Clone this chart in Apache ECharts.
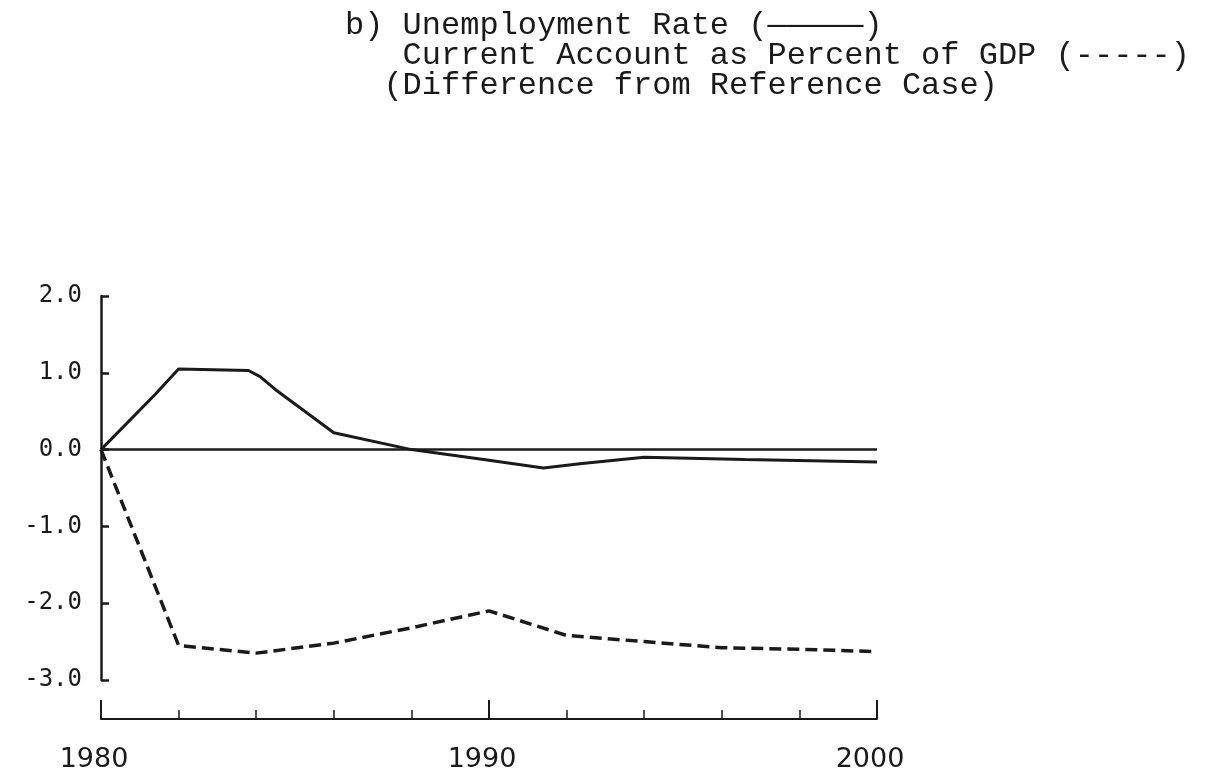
<!DOCTYPE html>
<html>
<head>
<meta charset="utf-8">
<script src="https://cdn.jsdelivr.net/npm/echarts@6/dist/echarts.min.js"></script>
<style>
  html, body { margin: 0; padding: 0; background: #fff; }
  #chart { width: 1206px; height: 773px; }
</style>
</head>
<body>
<div id="chart"></div>
<script>
// values: [year, difference]
const unemployment = [
  [1980, 0.0], [1981.4, 0.72], [1982, 1.05], [1983.8, 1.03], [1984.1, 0.95],
  [1984.5, 0.78], [1986, 0.22], [1988, 0.0], [1990, -0.14], [1991.4, -0.24],
  [1992.4, -0.18], [1994, -0.10], [1996.6, -0.13], [2000, -0.16]
]
const currentAccount = [
  [1980, 0.0], [1982, -2.55], [1984, -2.65], [1986, -2.52], [1988, -2.32],
  [1990, -2.1], [1992, -2.42], [1994, -2.5], [1996, -2.58], [1998, -2.6],
  [2000, -2.63]
]
const titleLines = [
  'b) Unemployment Rate (—————)',
  '   Current Account as Percent of GDP (-----)',
  '  (Difference from Reference Case)'
]
const ink = '#1a1a1a'

const chart = echarts.init(document.getElementById('chart'))

const option = {
  animation: false,
  backgroundColor: '#fff',
  title: {
    text: titleLines.join('\n'),
    left: 340,
    top: 6,
    textStyle: {
      fontFamily: 'Liberation Mono',
      fontSize: 32,
      fontWeight: 'normal',
      lineHeight: 30,
      color: ink
    }
  },
  grid: {
    left: 101,
    right: 329,
    top: 296,
    bottom: 91
  },
  xAxis: {
    type: 'value',
    min: 1980,
    max: 2000,
    interval: 10,
    offset: 39,
    axisLine: { onZero: false, lineStyle: { color: ink, width: 2 } },
    axisTick: { inside: true, length: 19, lineStyle: { color: ink, width: 2 } },
    minorTick: { show: true, splitNumber: 5, length: 9, lineStyle: { color: ink, width: 1.5 } },
    splitLine: { show: false },
    axisLabel: {
      margin: 27,
      color: ink,
      fontFamily: 'DejaVu Sans',
      fontSize: 27,
      padding: [0, 14, 0, 0],
      formatter: v => String(v)
    }
  },
  yAxis: {
    type: 'value',
    min: -3,
    max: 2,
    interval: 1,
    axisLine: { show: true, lineStyle: { color: ink, width: 2.5 } },
    axisTick: { show: true, inside: true, length: 8, lineStyle: { color: ink, width: 2.5 } },
    splitLine: { show: false },
    axisLabel: {
      margin: 19,
      color: ink,
      fontFamily: 'DejaVu Sans Mono',
      fontSize: 24,
      formatter: v => v.toFixed(1)
    }
  },
  series: [
    {
      name: 'Unemployment Rate',
      type: 'line',
      data: unemployment,
      showSymbol: false,
      lineStyle: { color: ink, width: 3 },
      markLine: {
        silent: true,
        symbol: ['none', 'none'],
        label: { show: false },
        lineStyle: { color: ink, width: 2.5, type: 'solid' },
        data: [{ yAxis: 0 }]
      }
    },
    {
      name: 'Current Account as Percent of GDP',
      type: 'line',
      data: currentAccount,
      showSymbol: false,
      lineStyle: { color: ink, width: 3.5, type: [12, 6] }
    }
  ]
}

chart.setOption(option)
</script>
</body>
</html>
